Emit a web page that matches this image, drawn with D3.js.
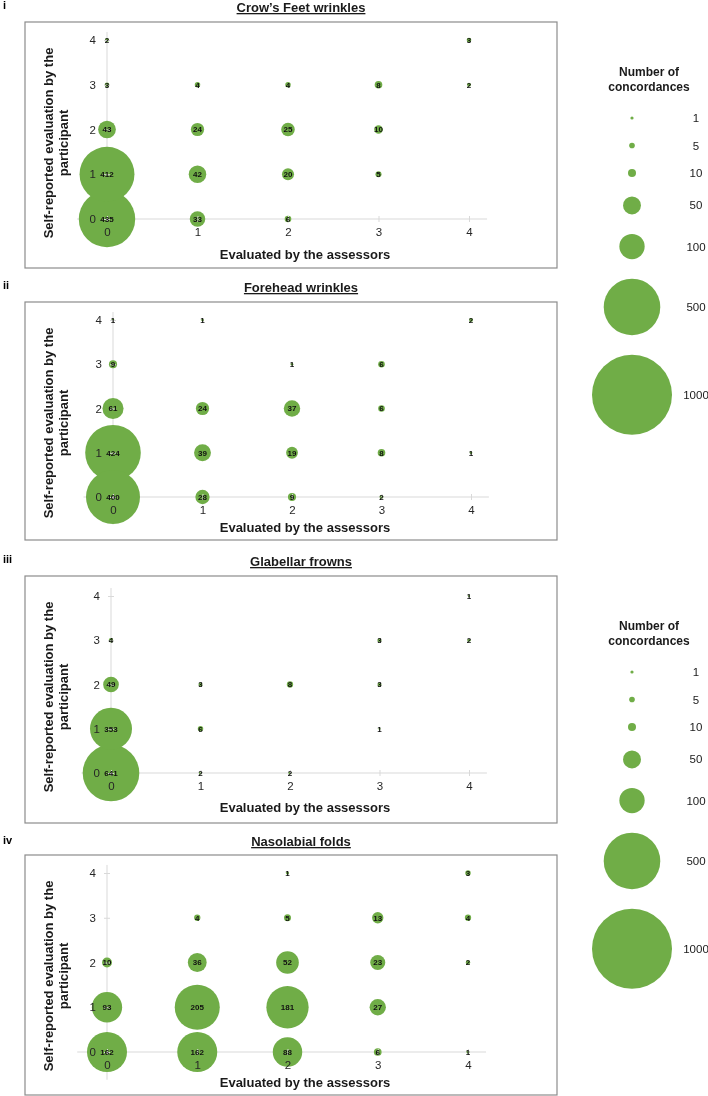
<!DOCTYPE html>
<html>
<head>
<meta charset="utf-8">
<script src="https://cdn.jsdelivr.net/npm/d3@7/dist/d3.min.js"></script>
<style>
  html, body { margin: 0; padding: 0; background: #fff; }
  svg { display: block; will-change: transform; -webkit-font-smoothing: antialiased; }
</style>
</head>
<body>
<svg id="chart" width="708" height="1096"></svg>
<script>
// ---------------- DATA ----------------
// Rows: self-reported evaluation 0..4 ; columns: evaluated by assessors 0..4 ; null = no bubble
const assessorLevels = [0, 1, 2, 3, 4];
const selfLevels = [0, 1, 2, 3, 4];

const crowsFeet = [
  [435, 33, 6, null, null],
  [412, 42, 20, 5, null],
  [43, 24, 25, 10, null],
  [3, 4, 4, 8, 2],
  [2, null, null, null, 3]
];
const forehead = [
  [400, 28, 9, 2, null],
  [424, 39, 19, 8, 1],
  [61, 24, 37, 6, null],
  [9, null, 1, 6, null],
  [1, 1, null, null, 2]
];
const glabellar = [
  [641, 2, 2, null, null],
  [353, 6, null, 1, null],
  [49, 3, 8, 3, null],
  [4, null, null, 3, 2],
  [null, null, null, null, 1]
];
const nasolabial = [
  [162, 162, 88, 6, 1],
  [93, 205, 181, 27, null],
  [10, 36, 52, 23, 2],
  [null, 4, 5, 13, 4],
  [null, null, 1, null, 3]
];

const panelTitles = ["Crow\u2019s Feet wrinkles", "Forehead wrinkles", "Glabellar frowns", "Nasolabial folds"];
const panelLetters = ["i", "ii", "iii", "iv"];
const xAxisTitle = "Evaluated by the assessors";
const yAxisTitle = ["Self-reported evaluation by the", "participant"];
const legendTitle = ["Number of", "concordances"];
const legendValues = [1, 5, 10, 50, 100, 500, 1000];

// ---------------- LAYOUT ----------------
const FONT = "'Liberation Sans', Arial, Helvetica, sans-serif";
const GREEN = "#70ad47";
const datasets = [crowsFeet, forehead, glabellar, nasolabial];
const layout = [
  { top: 22,  bottom: 268,  x0: 107, x4: 469, y0: 219,  y4: 40,  titleY: 12,  letterY: 9,   xTitleDy: 40, rMax: 28.2 },
  { top: 302, bottom: 540,  x0: 113, x4: 471, y0: 497,  y4: 320, titleY: 292, letterY: 289, xTitleDy: 35, rMax: 27.8 },
  { top: 576, bottom: 823,  x0: 111, x4: 469, y0: 773,  y4: 596, titleY: 566, letterY: 563, xTitleDy: 39, rMax: 28.3 },
  { top: 855, bottom: 1095, x0: 107, x4: 468, y0: 1052, y4: 873, titleY: 846, letterY: 844, xTitleDy: 35, rMax: 22.5 }
];
const boxLeft = 25, boxRight = 557;

const svg = d3.select("#chart");
svg.append("rect").attr("width", 708).attr("height", 1096).attr("fill", "#fff");

datasets.forEach((matrix, i) => {
  const L = layout[i];
  const g = svg.append("g");

  // panel letter
  g.append("text").attr("x", 3).attr("y", L.letterY)
    .attr("font-family", FONT).attr("font-size", 11).attr("font-weight", "bold")
    .attr("fill", "#000").text(panelLetters[i]);

  // panel title
  g.append("text").attr("x", 301).attr("y", L.titleY)
    .attr("text-anchor", "middle")
    .attr("font-family", FONT).attr("font-size", 13).attr("font-weight", "bold")
    .attr("text-decoration", "underline")
    .attr("fill", "#1a1a1a").text(panelTitles[i]);

  // box
  g.append("rect").attr("x", boxLeft).attr("y", L.top)
    .attr("width", boxRight - boxLeft).attr("height", L.bottom - L.top)
    .attr("fill", "none").attr("stroke", "#8c8c8c").attr("stroke-width", 1.2);

  const x = d3.scaleLinear().domain([0, 4]).range([L.x0, L.x4]);
  const y = d3.scaleLinear().domain([0, 4]).range([L.y0, L.y4]);

  // axis lines (crossing at 0)
  g.append("line")
    .attr("x1", x(-0.33)).attr("x2", x(4.2)).attr("y1", y(0)).attr("y2", y(0))
    .attr("stroke", "#d9d9d9").attr("stroke-width", 1);
  g.append("line")
    .attr("x1", x(0)).attr("x2", x(0)).attr("y1", y(4.18)).attr("y2", y(-0.62))
    .attr("stroke", "#d9d9d9").attr("stroke-width", 1);

  // bubbles
  const pts = [];
  matrix.forEach((row, yi) => row.forEach((v, xi) => {
    if (v != null) pts.push({ x: assessorLevels[xi], y: selfLevels[yi], v });
  }));
  pts.sort((a, b) => b.v - a.v);
  const r = d3.scaleSqrt().domain([0, d3.max(pts, d => d.v)]).range([0, L.rMax]);

  g.append("g").selectAll("circle").data(pts).join("circle")
    .attr("cx", d => x(d.x)).attr("cy", d => y(d.y)).attr("r", d => r(d.v))
    .attr("fill", GREEN);

  // bottom axis ticks/labels (drawn over bubbles)
  const xa = g.append("g").attr("transform", `translate(0,${y(0)})`)
    .call(d3.axisBottom(x).tickValues(assessorLevels).tickSize(3).tickPadding(6).tickFormat(d3.format("d")));
  xa.select(".domain").remove();
  xa.selectAll(".tick line").attr("y1", -3).attr("y2", 3).attr("stroke", "#d9d9d9");
  xa.selectAll(".tick text").attr("font-family", FONT).attr("font-size", 11.5).attr("fill", "#262626");

  // left axis ticks/labels
  const ya = g.append("g").attr("transform", `translate(${x(0)},0)`)
    .call(d3.axisLeft(y).tickValues(selfLevels).tickSize(3).tickPadding(8).tickFormat(d3.format("d")));
  ya.select(".domain").remove();
  ya.selectAll(".tick line").attr("x1", 3).attr("x2", -3).attr("stroke", "#d9d9d9");
  ya.selectAll(".tick text").attr("font-family", FONT).attr("font-size", 11.5).attr("fill", "#262626");

  // bubble value labels
  g.append("g").selectAll("text").data(pts).join("text")
    .attr("x", d => x(d.x)).attr("y", d => y(d.y)).attr("dy", "0.35em")
    .attr("text-anchor", "middle")
    .attr("font-family", FONT).attr("font-size", 8).attr("font-weight", "bold")
    .attr("fill", "#111").text(d => d.v);

  // x axis title
  g.append("text").attr("x", 305).attr("y", y(0) + L.xTitleDy)
    .attr("text-anchor", "middle")
    .attr("font-family", FONT).attr("font-size", 13).attr("font-weight", "bold")
    .attr("fill", "#1a1a1a").text(xAxisTitle);

  // y axis title
  const cy = L.top + 121;
  const yt = g.append("text").attr("transform", `translate(0,${cy}) rotate(-90)`)
    .attr("text-anchor", "middle")
    .attr("font-family", FONT).attr("font-size", 13).attr("font-weight", "bold")
    .attr("fill", "#1a1a1a");
  yAxisTitle.forEach((t, k) => {
    yt.append("tspan").attr("x", 0).attr("y", 53 + k * 15).text(t);
  });
});

// ---------------- LEGENDS ----------------
const legendR = d3.scaleSqrt().domain([0, 1000]).range([0, 40]);
function drawLegend(top) {
  const g = svg.append("g");
  legendTitle.forEach((t, k) => {
    g.append("text").attr("x", 649).attr("y", top + k * 14.5)
      .attr("text-anchor", "middle")
      .attr("font-family", FONT).attr("font-size", 12).attr("font-weight", "bold")
      .attr("fill", "#1a1a1a").text(t);
  });
  const entries = [];
  let yy = top + 42;
  legendValues.forEach((v, k) => {
    if (k > 0) {
      const prev = entries[k - 1];
      yy = prev.cy + Math.max(27.5, legendR(prev.v) + legendR(v) + 19.5);
    }
    entries.push({ v, cy: yy });
  });
  g.selectAll("circle").data(entries).join("circle")
    .attr("cx", 632).attr("cy", d => d.cy).attr("r", d => Math.max(1.6, legendR(d.v)))
    .attr("fill", GREEN);
  g.selectAll("text.lab").data(entries).join("text").attr("class", "lab")
    .attr("x", 696).attr("y", d => d.cy).attr("dy", "0.35em")
    .attr("text-anchor", "middle")
    .attr("font-family", FONT).attr("font-size", 11.5)
    .attr("fill", "#1a1a1a").text(d => d.v);
}
drawLegend(76);
drawLegend(630);
</script>
</body>
</html>
